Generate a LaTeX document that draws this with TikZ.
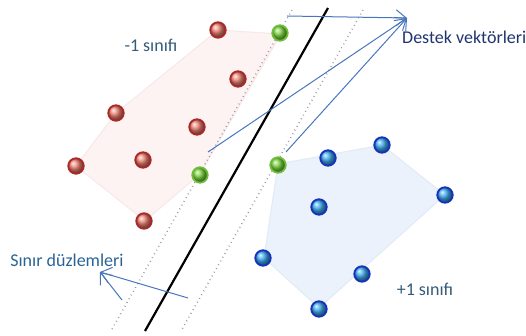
\documentclass[tikz,border=0pt]{standalone}
\usepackage{fontspec}
\setmainfont{Carlito}
\usetikzlibrary{arrows.meta}
\definecolor{classtxt}{RGB}{52,92,122}
\definecolor{navytxt}{RGB}{32,52,112}
\definecolor{sinirtxt}{RGB}{42,100,148}
\definecolor{arrowblue}{RGB}{72,118,188}
\definecolor{pinkfill}{RGB}{253,243,242}
\definecolor{pinkedge}{RGB}{248,232,230}
\definecolor{bluefill}{RGB}{236,242,251}
\definecolor{blueedge}{RGB}{226,234,248}
\definecolor{reddark}{RGB}{170,40,40}
\definecolor{redball}{RGB}{240,130,115}
\definecolor{greenball}{RGB}{120,210,60}
\definecolor{greenedge}{RGB}{110,190,60}
\definecolor{blueball}{RGB}{60,170,240}
\definecolor{bluedark}{RGB}{20,50,190}
\begin{document}
\begin{tikzpicture}[x=1pt,y=-1pt,
  pt/.style={circle,minimum size=15.5pt,inner sep=0pt,line width=1.8pt},
  redpt/.style={pt,draw=reddark,ball color=redball},
  greenpt/.style={pt,draw=greenedge,ball color=greenball},
  bluept/.style={pt,draw=bluedark,ball color=blueball},
  margin/.style={draw=gray!80,line width=1.5pt,dash pattern=on 0.8pt off 3.5pt},
  hyper/.style={draw=black,line width=2.2pt},
  note/.style={draw=arrowblue,line width=1pt,-{Straight Barb[length=10pt,width=16pt,line width=1pt]}},
  lbl/.style={font=\fontsize{18}{21}\selectfont,inner sep=0pt}
]
\useasboundingbox (0,0) rectangle (526,336);
% hulls
\filldraw[fill=pinkfill,draw=pinkedge,line width=1pt,line join=round]
  (218,30) -- (281,34) -- (200,174) -- (145,221) -- (76,166) -- (116,113) -- cycle;
\filldraw[fill=bluefill,draw=blueedge,line width=1pt,line join=round]
  (278,164) -- (382,145) -- (445,195) -- (319,308) -- (264,258) -- cycle;
% lines
\coordinate (lt) at (292,10); \coordinate (lb) at (111,331);
\coordinate (ht) at (328,8);  \coordinate (hb) at (145,331);
\coordinate (rt) at (363,10); \coordinate (rb) at (181,331);
\draw[margin] (lt) -- (lb);
\draw[margin] (rt) -- (rb);
\draw[hyper] (ht) -- (hb);
% points
\node[redpt] (r1) at (218,30) {};
\node[redpt] (r2) at (238,79) {};
\node[redpt] (r3) at (116,113) {};
\node[redpt] (r4) at (197,127) {};
\node[redpt] (r5) at (76,166) {};
\node[redpt] (r6) at (143,160) {};
\node[redpt] (r7) at (144,221) {};
\node[greenpt] (g1) at (280,33) {};
\node[greenpt] (g2) at (200,175) {};
\node[greenpt] (g3) at (278,165) {};
\node[bluept] (b1) at (382,145) {};
\node[bluept] (b2) at (328,158) {};
\node[bluept] (b3) at (445,195) {};
\node[bluept] (b4) at (319,207) {};
\node[bluept] (b5) at (263,258) {};
\node[bluept] (b6) at (362,274) {};
\node[bluept] (b7) at (319,309) {};
% labels
\node[lbl,text=classtxt] (lm1) at (151,45) {-1 sınıfı};
\node[lbl,text=classtxt] (lp1) at (425,289) {+1 sınıfı};
\node[lbl,text=navytxt,anchor=west] (ldv) at (402,37) {Destek vektörleri};
\node[lbl,text=sinirtxt] (lsd) at (67,260) {Sınır düzlemleri};
% annotation arrows
\coordinate (dvtip) at (407,18);
\coordinate (a1) at (287,16);
\coordinate (a2) at (208,152);
\coordinate (a3) at (286,152);
\draw[note] (a1) -- (dvtip);
\draw[note] (a2) -- (dvtip);
\draw[note] (a3) -- (dvtip);
\coordinate (sdtip) at (100,272);
\coordinate (s1) at (122,300);
\coordinate (s2) at (188,298);
\draw[note] (s1) -- (sdtip);
\draw[note] (s2) -- (sdtip);
\end{tikzpicture}
\end{document}
